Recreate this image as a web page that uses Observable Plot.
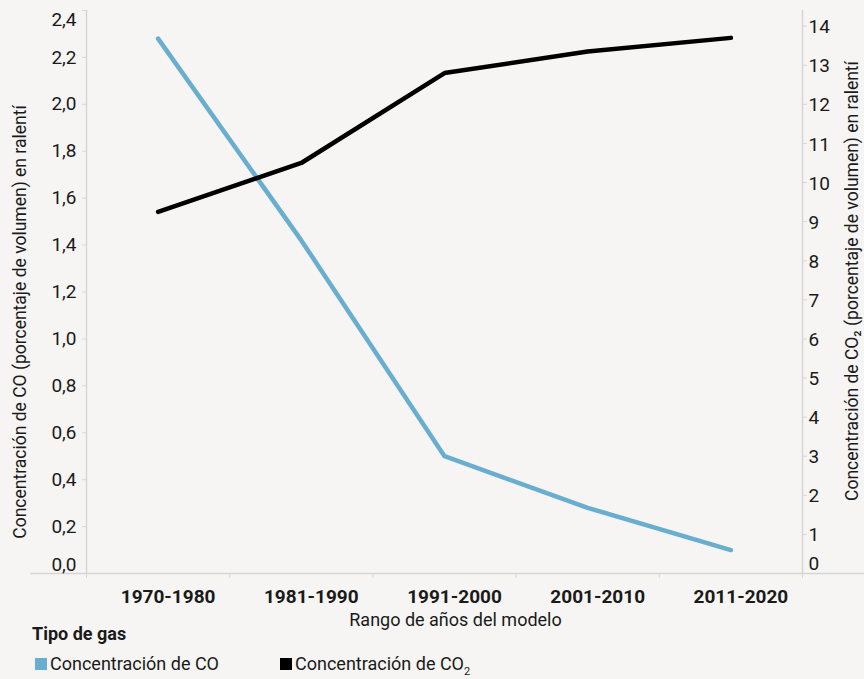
<!DOCTYPE html>
<html><head><meta charset="utf-8">
<script src="https://cdn.jsdelivr.net/npm/d3@7"></script>
<script src="https://cdn.jsdelivr.net/npm/@observablehq/plot@0.6"></script>
<style>
html,body{margin:0;padding:0;background:#f6f5f3;}
#wrap{position:relative;width:864px;height:679px;background:#f6f5f3;font-family:Roboto,"Liberation Sans",sans-serif;color:#1a1a1a;overflow:hidden;}
#wrap svg{position:absolute;left:0;top:0;}
.lg-title{position:absolute;left:32px;top:622px;font-size:18px;font-weight:bold;line-height:24px;}
.lg-item{position:absolute;top:652px;font-size:18px;line-height:24px;white-space:nowrap;}
.sw{position:absolute;top:6px;width:12px;height:12px;}
sub{font-size:11px;vertical-align:-5px;line-height:0;}
</style></head><body><div id="wrap"></div>
<script>
const categories = ["1970-1980","1981-1990","1991-2000","2001-2010","2011-2020"];
const coValues = [2.28, 1.42, 0.50, 0.28, 0.10];
const co2Values = [9.25, 10.5, 12.8, 13.35, 13.7];
const leftTicks = [0, 0.2, 0.4, 0.6, 0.8, 1.0, 1.2, 1.4, 1.6, 1.8, 2.0, 2.2, 2.4];
const rightTicks = [0,1,2,3,4,5,6,7,8,9,10,11,12,13,14];
const ratio = 6; // right axis = left axis * 6
const xTitle = "Rango de años del modelo";
const yLeftTitle = "Concentración de CO (porcentaje de volumen) en ralentí";
const yRightTitle = "Concentración de CO₂ (porcentaje de volumen) en ralentí";
const legendTitle = "Tipo de gas";
const seriesNames = ["Concentración de CO", "Concentración de CO"];
const coColor = "#69aecf";
const co2Color = "#000000";
const axisColor = "#d6d6d6";

const idx = d3.range(categories.length);
const boundaries = d3.range(categories.length + 1).map(i => i - 0.5);
const coData = idx.map(i => ({i, v: coValues[i]}));
const co2Data = idx.map(i => ({i, v: co2Values[i]}));
const fmt = d => d3.format(".1f")(d).replace(".", ",");
const font = "Roboto, 'Liberation Sans', sans-serif";

const plot = Plot.plot({
  width: 864,
  height: 632,
  marginLeft: 86,
  marginRight: 62,
  marginTop: 10,
  marginBottom: 59,
  style: {background: "transparent", fontFamily: font, fontSize: "18px", color: "#1a1a1a", overflow: "visible"},
  x: {type: "linear", domain: [-0.5, categories.length - 0.5]},
  y: {domain: [0, 2.4]},
  marks: [
    Plot.ruleX([-0.5, categories.length - 0.5], {stroke: axisColor, strokeWidth: 1.5}),
    Plot.ruleY([0], {stroke: axisColor, strokeWidth: 1.5, insetLeft: -56, insetRight: -62}),
    // x boundary ticks
    Plot.axisX(boundaries, {anchor: "bottom", tickSize: 5, tickFormat: () => "", stroke: axisColor, label: null}),
    // x category labels
    Plot.axisX(idx, {anchor: "bottom", tickSize: 0, tickPadding: 16, tickFormat: i => categories[i], fontWeight: "bold", fontSize: 19, dx: 10, label: null}),
    Plot.text([xTitle], {frameAnchor: "bottom", lineAnchor: "middle", dy: 47, dx: 11, fontSize: 18}),
    // left axis ticks + labels
    Plot.axisY(leftTicks, {anchor: "left", tickSize: 4, tickFormat: () => "", stroke: axisColor, label: null}),
    Plot.axisY(leftTicks.slice(1, -1), {anchor: "left", tickSize: 0, tickPadding: 10, tickFormat: fmt, fontSize: 19, label: null}),
    Plot.axisY([2.4], {anchor: "left", tickSize: 0, tickPadding: 10, tickFormat: fmt, fontSize: 19, dy: 9, label: null}),
    Plot.axisY([0], {anchor: "left", tickSize: 0, tickPadding: 10, tickFormat: fmt, fontSize: 19, dy: -9, label: null}),
    // right axis ticks + labels
    Plot.axisY(rightTicks.map(k => k / ratio), {anchor: "right", tickSize: 4, tickFormat: () => "", stroke: axisColor, label: null}),
    Plot.axisY(rightTicks.slice(1).map(k => k / ratio), {anchor: "right", tickSize: 0, tickPadding: 6, tickFormat: d => String(Math.round(d * ratio)), fontSize: 19, dy: 1, label: null}),
    Plot.axisY([0], {anchor: "right", tickSize: 0, tickPadding: 6, tickFormat: d => String(Math.round(d * ratio)), fontSize: 19, dy: -10, label: null}),
    // axis titles
    Plot.text([yLeftTitle], {frameAnchor: "left", textAnchor: "middle", lineAnchor: "middle", rotate: -90, dx: -66, dy: 30, fontSize: 17.5}),
    Plot.text([yRightTitle], {frameAnchor: "right", textAnchor: "middle", lineAnchor: "middle", rotate: -90, dx: 50, dy: -11, fontSize: 17.5}),
    // lines
    Plot.line(coData, {x: "i", y: "v", stroke: coColor, strokeWidth: 4.5, strokeLinecap: "round", strokeLinejoin: "round"}),
    Plot.line(co2Data, {x: "i", y: d => d.v / ratio, stroke: co2Color, strokeWidth: 4.5, strokeLinecap: "round", strokeLinejoin: "round"})
  ]
});

const wrap = document.getElementById("wrap");
wrap.appendChild(plot);

const t = document.createElement("div");
t.className = "lg-title";
t.textContent = legendTitle;
wrap.appendChild(t);

const items = [
  {name: seriesNames[0], sub: "", color: coColor, left: 35},
  {name: seriesNames[1], sub: "2", color: co2Color, left: 280}
];
for (const it of items) {
  const d = document.createElement("div");
  d.className = "lg-item";
  d.style.left = it.left + "px";
  d.style.paddingLeft = "15px";
  const sw = document.createElement("span");
  sw.className = "sw";
  sw.style.left = "0px";
  sw.style.background = it.color;
  d.appendChild(sw);
  d.appendChild(document.createTextNode(it.name));
  if (it.sub) { const s = document.createElement("sub"); s.textContent = it.sub; d.appendChild(s); }
  wrap.appendChild(d);
}
</script></body></html>
